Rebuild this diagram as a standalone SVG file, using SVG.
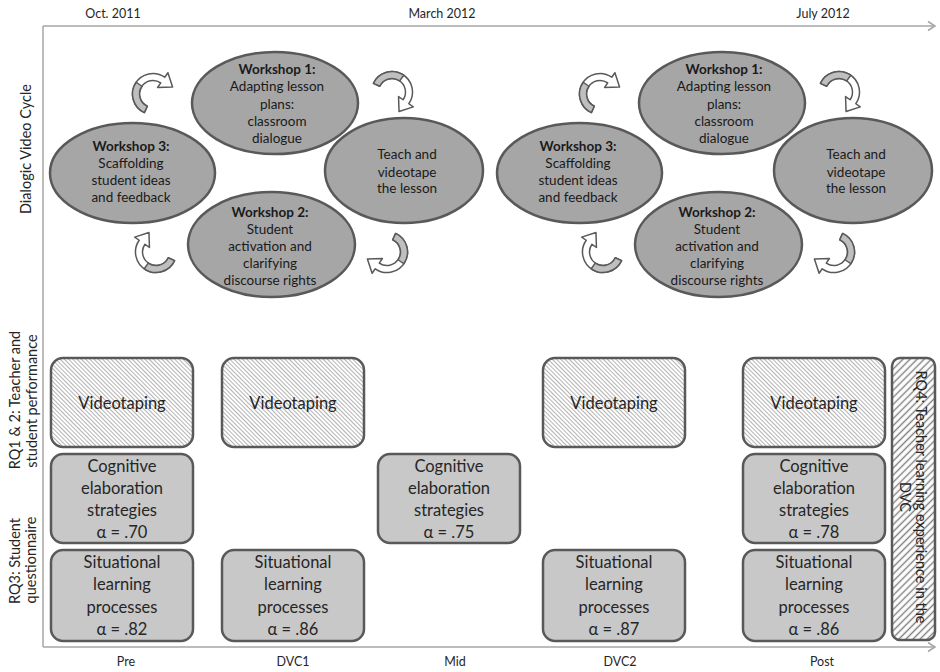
<svg xmlns="http://www.w3.org/2000/svg" xmlns:xlink="http://www.w3.org/1999/xlink" width="940" height="672" viewBox="0 0 940 672">
<style>
.axis{stroke:#a6a6a6;stroke-width:1.5;fill:none}
.lbl{font-family:Lato,"Liberation Sans",sans-serif;font-size:12.5px;fill:#262626;text-anchor:middle}
.side{font-family:Lato,"Liberation Sans",sans-serif;font-size:14.5px;fill:#262626;text-anchor:middle}
.ell{fill:#a6a6a6;stroke:#595959;stroke-width:2.5}
.et{font-family:Lato,"Liberation Sans",sans-serif;font-size:13.5px;fill:#1a1a1a;text-anchor:middle}
.eb{font-weight:bold}
.box{fill:#c8c8c8;stroke:#595959;stroke-width:2.5}
.vbox{fill:url(#hatchFine);stroke:#595959;stroke-width:2.5}
.bt{font-family:Lato,"Liberation Sans",sans-serif;font-size:16.5px;fill:#262626;text-anchor:middle}
.arw{fill:#ffffff;stroke:#595959;stroke-width:1.5;stroke-linejoin:round}
.arwg{fill:#bfbfbf;stroke:#595959;stroke-width:1.5;stroke-linejoin:round}
</style>
<defs>
<pattern id="hatchFine" patternUnits="userSpaceOnUse" width="3" height="6" patternTransform="rotate(-45)">
<rect width="3" height="6" fill="#ffffff"/>
<line x1="1.5" y1="0" x2="1.5" y2="6" stroke="#a0a0a0" stroke-width="0.8"/>
</pattern>
<pattern id="hatchWide" patternUnits="userSpaceOnUse" width="5" height="10" patternTransform="rotate(45)">
<rect width="5" height="10" fill="#ffffff"/>
<line x1="2.5" y1="0" x2="2.5" y2="10" stroke="#7f7f7f" stroke-width="1.4"/>
</pattern>
<g id="carrow">
<path class="arw" d="M -8.66 18.58 A 20.5 20.5 0 1 1 11.76 -16.79 L 14.91 -21.30 L 19.58 -7.05 L 4.59 -6.55 L 7.74 -11.06 A 13.5 13.5 0 1 0 -5.71 12.24 Z"/>
<path class="arwg" d="M -8.66 18.58 A 20.5 20.5 0 0 1 -16.79 -11.76 L -11.06 -7.74 A 13.5 13.5 0 0 0 -5.71 12.24 Z"/>
</g>
</defs>
<rect width="940" height="672" fill="#ffffff"/>

<g id="axes">
<line class="axis" x1="43" y1="26" x2="935" y2="26"/>
<polyline class="axis" points="928,21.5 935,26 928,30.5"/>
<line class="axis" x1="43" y1="26" x2="43" y2="647"/>
<line class="axis" x1="43" y1="647" x2="935" y2="647"/>
<polyline class="axis" points="928,642.5 935,647 928,651.5"/>
</g>

<g id="header">
<text class="lbl" x="113" y="18">Oct. 2011</text>
<text class="lbl" x="442" y="18">March 2012</text>
<text class="lbl" x="823" y="18">July 2012</text>
</g>

<g id="footer">
<text class="lbl" x="126" y="666">Pre</text>
<text class="lbl" x="293" y="666">DVC1</text>
<text class="lbl" x="455" y="666">Mid</text>
<text class="lbl" x="620" y="666">DVC2</text>
<text class="lbl" x="822" y="666">Post</text>
</g>

<g id="side-labels">
<text class="side" transform="translate(30.5,149) rotate(-90)">Dialogic Video Cycle</text>
<text class="side" transform="translate(20,400) rotate(-90)">RQ1 &amp; 2: Teacher and</text>
<text class="side" transform="translate(36.5,401) rotate(-90)">student performance</text>
<text class="side" transform="translate(20,561) rotate(-90)">RQ3: Student</text>
<text class="side" transform="translate(36,560) rotate(-90)">questionnaire</text>
</g>

<g id="cycle1">
<g id="c1-w1">
<ellipse class="ell" cx="275" cy="103" rx="83" ry="51"/>
<text class="et eb" x="277" y="74">Workshop 1:</text>
<text class="et" x="277" y="91">Adapting lesson</text>
<text class="et" x="277" y="108.5">plans:</text>
<text class="et" x="277" y="126">classroom</text>
<text class="et" x="277" y="143">dialogue</text>
</g>
<g id="c1-teach">
<ellipse class="ell" cx="404" cy="170.5" rx="79" ry="52.5"/>
<text class="et" x="407" y="159">Teach and</text>
<text class="et" x="407" y="176.5">videotape</text>
<text class="et" x="407" y="193">the lesson</text>
</g>
<g id="c1-w2">
<ellipse class="ell" cx="271.5" cy="244.5" rx="83.5" ry="52.5"/>
<text class="et eb" x="270" y="217">Workshop 2:</text>
<text class="et" x="270" y="233.5">Student</text>
<text class="et" x="270" y="250.5">activation and</text>
<text class="et" x="270" y="267.5">clarifying</text>
<text class="et" x="270" y="284.5">discourse rights</text>
</g>
<g id="c1-w3">
<ellipse class="ell" cx="132.5" cy="173" rx="82.5" ry="50"/>
<text class="et eb" x="131" y="151">Workshop 3:</text>
<text class="et" x="131" y="167.5">Scaffolding</text>
<text class="et" x="131" y="185">student ideas</text>
<text class="et" x="131" y="202">and feedback</text>
</g>
</g>

<g id="cycle2" transform="translate(447,0)">
<g id="c2-w1">
<ellipse class="ell" cx="275" cy="103" rx="83" ry="51"/>
<text class="et eb" x="277" y="74">Workshop 1:</text>
<text class="et" x="277" y="91">Adapting lesson</text>
<text class="et" x="277" y="108.5">plans:</text>
<text class="et" x="277" y="126">classroom</text>
<text class="et" x="277" y="143">dialogue</text>
</g>
<g id="c2-teach">
<ellipse class="ell" cx="406" cy="170.5" rx="79" ry="52.5"/>
<text class="et" x="409" y="159">Teach and</text>
<text class="et" x="409" y="176.5">videotape</text>
<text class="et" x="409" y="193">the lesson</text>
</g>
<g id="c2-w2">
<ellipse class="ell" cx="271.5" cy="244.5" rx="83.5" ry="52.5"/>
<text class="et eb" x="270" y="217">Workshop 2:</text>
<text class="et" x="270" y="233.5">Student</text>
<text class="et" x="270" y="250.5">activation and</text>
<text class="et" x="270" y="267.5">clarifying</text>
<text class="et" x="270" y="284.5">discourse rights</text>
</g>
<g id="c2-w3">
<ellipse class="ell" cx="132.5" cy="173" rx="82.5" ry="50"/>
<text class="et eb" x="131" y="151">Workshop 3:</text>
<text class="et" x="131" y="167.5">Scaffolding</text>
<text class="et" x="131" y="185">student ideas</text>
<text class="et" x="131" y="202">and feedback</text>
</g>
</g>

<g id="connectors">
<use xlink:href="#carrow" transform="translate(153,94)"/>
<use xlink:href="#carrow" transform="translate(392,92) rotate(90)"/>
<use xlink:href="#carrow" transform="translate(387,252) rotate(180)"/>
<use xlink:href="#carrow" transform="translate(156,252) rotate(270)"/>
<use xlink:href="#carrow" transform="translate(600,94)"/>
<use xlink:href="#carrow" transform="translate(839,92) rotate(90)"/>
<use xlink:href="#carrow" transform="translate(834,252) rotate(180)"/>
<use xlink:href="#carrow" transform="translate(603,252) rotate(270)"/>
</g>

<g id="pre-video"><rect class="vbox" x="51" y="358" width="142" height="89" rx="12"/><text class="bt" x="122" y="409">Videotaping</text></g>
<g id="pre-cog"><rect class="box" x="51" y="454" width="142" height="89" rx="12"/>
<text class="bt" x="122" y="472">Cognitive</text><text class="bt" x="122" y="494">elaboration</text><text class="bt" x="122" y="516">strategies</text><text class="bt" x="122" y="538">α = .70</text></g>
<g id="pre-sit"><rect class="box" x="51" y="550" width="142" height="91" rx="12"/>
<text class="bt" x="122" y="568">Situational</text><text class="bt" x="122" y="590">learning</text><text class="bt" x="122" y="613">processes</text><text class="bt" x="122" y="635">α = .82</text></g>

<g id="dvc1-video"><rect class="vbox" x="222" y="358" width="142" height="89" rx="12"/><text class="bt" x="293" y="409">Videotaping</text></g>
<g id="dvc1-sit"><rect class="box" x="222" y="550" width="142" height="91" rx="12"/>
<text class="bt" x="293" y="568">Situational</text><text class="bt" x="293" y="590">learning</text><text class="bt" x="293" y="613">processes</text><text class="bt" x="293" y="635">α = .86</text></g>

<g id="mid-cog"><rect class="box" x="378" y="454" width="142" height="89" rx="12"/>
<text class="bt" x="449" y="472">Cognitive</text><text class="bt" x="449" y="494">elaboration</text><text class="bt" x="449" y="516">strategies</text><text class="bt" x="449" y="538">α = .75</text></g>

<g id="dvc2-video"><rect class="vbox" x="543" y="358" width="142" height="89" rx="12"/><text class="bt" x="614" y="409">Videotaping</text></g>
<g id="dvc2-sit"><rect class="box" x="543" y="550" width="142" height="91" rx="12"/>
<text class="bt" x="614" y="568">Situational</text><text class="bt" x="614" y="590">learning</text><text class="bt" x="614" y="613">processes</text><text class="bt" x="614" y="635">α = .87</text></g>

<g id="post-video"><rect class="vbox" x="743" y="358" width="142" height="89" rx="12"/><text class="bt" x="814" y="409">Videotaping</text></g>
<g id="post-cog"><rect class="box" x="743" y="454" width="142" height="89" rx="12"/>
<text class="bt" x="814" y="472">Cognitive</text><text class="bt" x="814" y="494">elaboration</text><text class="bt" x="814" y="516">strategies</text><text class="bt" x="814" y="538">α = .78</text></g>
<g id="post-sit"><rect class="box" x="743" y="550" width="142" height="91" rx="12"/>
<text class="bt" x="814" y="568">Situational</text><text class="bt" x="814" y="590">learning</text><text class="bt" x="814" y="613">processes</text><text class="bt" x="814" y="635">α = .86</text></g>

<g id="rq4"><rect x="892" y="358" width="43" height="282" rx="8" fill="url(#hatchWide)" stroke="#595959" stroke-width="2.5"/>
<text class="side" transform="translate(916,497) rotate(90)">RQ4: Teacher learning experience in the</text>
<text class="side" transform="translate(899.5,497) rotate(90)">DVC</text></g>
</svg>
